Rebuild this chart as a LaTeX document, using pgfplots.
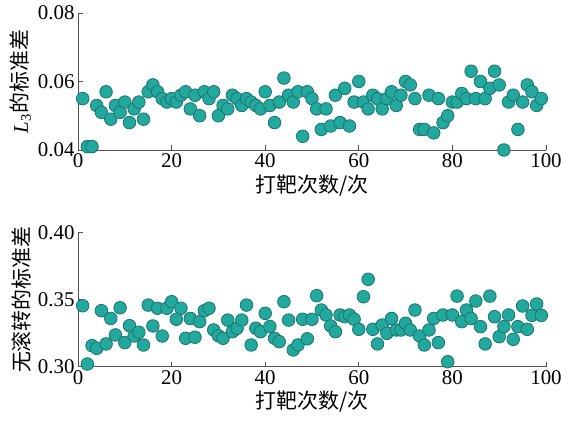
\documentclass[border=0pt]{standalone}
\usepackage{fontspec}
\setmainfont{Liberation Serif}
\newfontfamily\cjk{Noto Sans CJK SC}
\usepackage{pgfplots}
\pgfplotsset{compat=1.18}
\definecolor{dotfill}{RGB}{35,168,158}
\definecolor{dotedge}{RGB}{25,118,112}
\definecolor{axgray}{RGB}{80,80,80}
\pgfplotsset{mystyle/.style={
  scale only axis, width=468bp,
  xmin=0, xmax=100, axis lines*=left,
  axis line style={axgray, line width=0.8bp},
  tick style={axgray, line width=0.8bp}, tick align=inside, major tick length=5bp,
  xtick={0,20,...,100},
  scaled y ticks=false,
  ticklabel style={font=\fontsize{21}{25}\selectfont},
  label style={font=\fontsize{21}{25}\selectfont},
  /pgf/number format/assume math mode=true,
  y tick label style={/pgf/number format/fixed, /pgf/number format/fixed zerofill, /pgf/number format/precision=2},
  clip=false,
}}
\pgfplotsset{dots/.style={only marks, mark=*, mark size=6.3bp,
  mark options={fill=dotfill, draw=dotedge, line width=0.8bp}}}
\begin{document}
\begin{tikzpicture}
\useasboundingbox (0,0) rectangle (561bp,428bp);
\begin{axis}[mystyle, at={(78bp,278bp)}, anchor=south west, height=137bp,
  ymin=0.04, ymax=0.08, ytick={0.04,0.06,0.08},
  xlabel={\cjk 打靶次数/次}, ylabel={{\itshape L}\textsubscript{3}\cjk 的标准差}]
\addplot[dots] coordinates {
(1,0.055)(2,0.041)(3,0.041)(4,0.053)(5,0.051)(6,0.057)(7,0.049)(8,0.053)(9,0.051)(10,0.054)
(11,0.048)(12,0.052)(13,0.054)(14,0.049)(15,0.057)(16,0.059)(17,0.057)(18,0.055)(19,0.054)(20,0.055)
(21,0.054)(22,0.056)(23,0.057)(24,0.052)(25,0.056)(26,0.050)(27,0.057)(28,0.055)(29,0.057)(30,0.050)
(31,0.053)(32,0.052)(33,0.056)(34,0.055)(35,0.053)(36,0.055)(37,0.054)(38,0.053)(39,0.052)(40,0.057)
(41,0.053)(42,0.048)(43,0.054)(44,0.061)(45,0.056)(46,0.054)(47,0.057)(48,0.044)(49,0.057)(50,0.055)
(51,0.052)(52,0.046)(53,0.052)(54,0.047)(55,0.056)(56,0.048)(57,0.058)(58,0.047)(59,0.054)(60,0.060)
(61,0.054)(62,0.052)(63,0.056)(64,0.055)(65,0.052)(66,0.055)(67,0.057)(68,0.053)(69,0.056)(70,0.060)
(71,0.059)(72,0.055)(73,0.046)(74,0.046)(75,0.056)(76,0.045)(77,0.055)(78,0.048)(79,0.050)(80,0.054)
(81,0.054)(82,0.0565)(83,0.055)(84,0.063)(85,0.055)(86,0.060)(87,0.055)(88,0.058)(89,0.063)(90,0.059)
(91,0.040)(92,0.054)(93,0.056)(94,0.046)(95,0.054)(96,0.059)(97,0.057)(98,0.053)(99,0.055)
};
\end{axis}
\begin{axis}[mystyle, at={(78bp,61.3bp)}, anchor=south west, height=134bp,
  ymin=0.30, ymax=0.40, ytick={0.30,0.35,0.40},
  xlabel={\cjk 打靶次数/次}, ylabel={\cjk 无滚转的标准差}]
\addplot[dots] coordinates {
(1,0.3455)(2,0.302)(3,0.3157)(4,0.3137)(5,0.3418)(6,0.317)(7,0.336)(8,0.3237)(9,0.344)(10,0.318)
(11,0.3306)(12,0.3229)(13,0.3257)(14,0.3162)(15,0.346)(16,0.3304)(17,0.3436)(18,0.3229)(19,0.3436)(20,0.3485)
(21,0.3354)(22,0.3436)(23,0.3212)(24,0.336)(25,0.322)(26,0.3336)(27,0.3418)(28,0.3436)(29,0.3274)(30,0.3231)
(31,0.3212)(32,0.3348)(33,0.3261)(34,0.3287)(35,0.3348)(36,0.346)(37,0.3162)(38,0.3287)(39,0.3261)(40,0.3398)
(41,0.330)(42,0.3212)(43,0.3187)(44,0.3485)(45,0.3348)(46,0.3125)(47,0.3162)(48,0.3354)(49,0.3208)(50,0.3354)
(51,0.3530)(52,0.3423)(53,0.3386)(54,0.3304)(55,0.3261)(56,0.3386)(57,0.3373)(58,0.3386)(59,0.3354)(60,0.3279)
(61,0.3522)(62,0.3652)(63,0.3279)(64,0.317)(65,0.3311)(66,0.3249)(67,0.336)(68,0.3274)(69,0.3274)(70,0.3324)
(71,0.3274)(72,0.3423)(73,0.3229)(74,0.3162)(75,0.3274)(76,0.336)(77,0.318)(78,0.3386)(79,0.3037)(80,0.3386)
(81,0.3527)(82,0.3336)(83,0.3423)(84,0.336)(85,0.349)(86,0.3299)(87,0.317)(88,0.3527)(89,0.3373)(90,0.3224)
(91,0.3299)(92,0.3386)(93,0.3204)(94,0.3299)(95,0.3453)(96,0.3279)(97,0.3383)(98,0.3468)(99,0.3383)
};
\end{axis}
\end{tikzpicture}
\end{document}
